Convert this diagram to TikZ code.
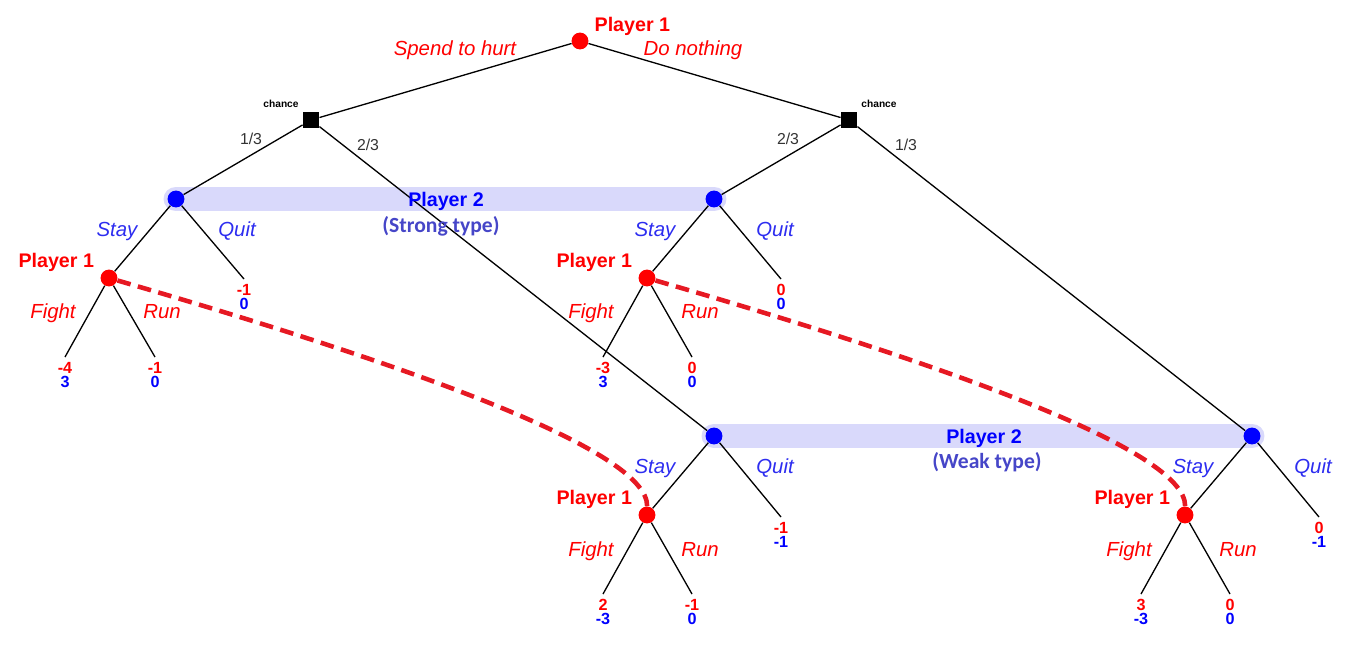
\documentclass[tikz,border=0pt]{standalone}
\usepackage{fontspec}
\setmainfont{Liberation Sans}
\newfontfamily\typefont{Carlito}
\usetikzlibrary{positioning,backgrounds}
\definecolor{pred}{RGB}{255,0,0}
\definecolor{pblue}{RGB}{0,0,255}
\definecolor{actblue}{RGB}{45,45,240}
\definecolor{typeblue}{RGB}{70,70,200}
\definecolor{dashred}{RGB}{230,25,35}
\definecolor{bandcol}{RGB}{217,217,251}
\definecolor{probgray}{RGB}{51,51,51}
\tikzset{
    p1node/.style={circle, fill=pred, inner sep=0pt, minimum size=9.6pt},
    p2node/.style={circle, fill=pblue, inner sep=0pt, minimum size=9.6pt},
    chancebox/.style={rectangle, fill=black, inner sep=0pt, minimum size=9.2pt},
    plabel/.style={inner sep=0pt, font=\fontsize{11.2}{13}\selectfont\bfseries},
    act1/.style={inner sep=0pt, anchor=base, text=pred, font=\fontsize{11.6}{13}\selectfont\itshape},
    act2/.style={inner sep=0pt, anchor=base, text=actblue, font=\fontsize{11.6}{13}\selectfont\itshape},
    prob/.style={inner sep=0pt, anchor=base, text=probgray, font=\fontsize{9}{10}\selectfont},
    chancetxt/.style={inner sep=0pt, anchor=base, font=\fontsize{5.8}{7}\selectfont\bfseries},
    pay/.style={inner sep=0pt, align=center, font=\fontsize{9.2}{8}\selectfont\bfseries},
    infoset/.style={draw=dashred, line width=2.6pt, dash pattern=on 7.8pt off 4.3pt},
    band/.style={draw=bandcol, line width=14.2pt, line cap=round},
}

\begin{document}
\begin{tikzpicture}[x=0.02cm, y=-0.02cm,
                    every edge/.style={draw=black, line width=0.75pt}]
  \useasboundingbox (0,0) rectangle (1355,647);

  % decision and chance nodes
  \node[p1node]    (r)  at (580,41)   {};
  \node[chancebox] (c1) at (311,120)  {};
  \node[chancebox] (c2) at (849,120)  {};
  \node[p2node]    (s1) at (176,199)  {};
  \node[p2node]    (s2) at (714,199)  {};
  \node[p2node]    (w1) at (714,436)  {};
  \node[p2node]    (w2) at (1252,436) {};
  \node[p1node]    (a1) at (109,278)  {};
  \node[p1node]    (a2) at (647,278)  {};
  \node[p1node]    (a3) at (647,515)  {};
  \node[p1node]    (a4) at (1185,515) {};

  % leaf ends
  \coordinate (f1) at (65,357);   \coordinate (u1) at (155,357);  \coordinate (q1) at (244,279);
  \coordinate (f2) at (603,357);  \coordinate (u2) at (692,357);  \coordinate (q2) at (781,279);
  \coordinate (f3) at (603,594);  \coordinate (u3) at (692,594);  \coordinate (q3) at (781,517);
  \coordinate (f4) at (1141,594); \coordinate (u4) at (1230,594); \coordinate (q4) at (1319,517);

  % information sets of player 2
  \begin{pgfonlayer}{background}
    \draw[band] (s1.center) -- (s2.center);
    \draw[band] (w1.center) -- (w2.center);
  \end{pgfonlayer}

  \path (r)  edge (c1) edge (c2)
        (c1) edge (s1) edge (w1)
        (c2) edge (s2) edge (w2)
        (s1) edge (a1) edge (q1)
        (s2) edge (a2) edge (q2)
        (w1) edge (a3) edge (q3)
        (w2) edge (a4) edge (q4)
        (a1) edge (f1) edge (u1)
        (a2) edge (f2) edge (u2)
        (a3) edge (f3) edge (u3)
        (a4) edge (f4) edge (u4);

  % information sets of player 1
  \draw[infoset] (a1) .. controls (409,365) and (648,450) .. (a3);
  \draw[infoset] (a2) .. controls (947,365) and (1186,450) .. (a4);

  % player labels
  \node[plabel, text=pred, above right=-0.5pt and 4.6pt of r] {Player 1};
  \node[plabel, text=pred, above left=0pt and 4.8pt of a1] {Player 1};
  \node[plabel, text=pred, above left=0pt and 4.8pt of a2] {Player 1};
  \node[plabel, text=pred, above left=0pt and 4.8pt of a3] {Player 1};
  \node[plabel, text=pred, above left=0pt and 4.8pt of a4] {Player 1};
  \node[plabel, anchor=base, text=pblue] (p2s) at (446,206.5) {Player 2};
  \node[inner sep=0pt, anchor=base, text=typeblue, font=\typefont\fontsize{12.3}{14}\selectfont\bfseries] at (441,232) {(Strong type)};
  \node[plabel, anchor=base, text=pblue] (p2w) at (984,443.5) {Player 2};
  \node[inner sep=0pt, anchor=base, text=typeblue, font=\typefont\fontsize{12.3}{14}\selectfont\bfseries] at (987,468) {(Weak type)};
  \node[chancetxt] at (281,107) {chance};
  \node[chancetxt] at (879,107) {chance};

  % actions
  \node[act1] at (455,55) {Spend to hurt};
  \node[act1] at (693,55) {Do nothing};
  \node[prob] at (251,144) {1/3};
  \node[prob] at (368,150) {2/3};
  \node[prob] at (788,144) {2/3};
  \node[prob] at (906,150) {1/3};
  \node[act2] at (117,236)  {Stay}; \node[act2] at (237,236)  {Quit};
  \node[act2] at (655,236)  {Stay}; \node[act2] at (775,236)  {Quit};
  \node[act2] at (655,473)  {Stay}; \node[act2] at (775,473)  {Quit};
  \node[act2] at (1193,473) {Stay}; \node[act2] at (1313,473) {Quit};
  \node[act1] at (53,318)   {Fight}; \node[act1] at (162,318)  {Run};
  \node[act1] at (591,318)  {Fight}; \node[act1] at (700,318)  {Run};
  \node[act1] at (591,556)  {Fight}; \node[act1] at (700,556)  {Run};
  \node[act1] at (1129,556) {Fight}; \node[act1] at (1238,556) {Run};

  % payoffs
  \node[pay, below=2.8pt of f1] {\textcolor{pred}{-4}\\\textcolor{pblue}{3}};
  \node[pay, below=2.8pt of u1] {\textcolor{pred}{-1}\\\textcolor{pblue}{0}};
  \node[pay, below=2.8pt of q1] {\textcolor{pred}{-1}\\\textcolor{pblue}{0}};
  \node[pay, below=2.8pt of f2] {\textcolor{pred}{-3}\\\textcolor{pblue}{3}};
  \node[pay, below=2.8pt of u2] {\textcolor{pred}{0}\\\textcolor{pblue}{0}};
  \node[pay, below=2.8pt of q2] {\textcolor{pred}{0}\\\textcolor{pblue}{0}};
  \node[pay, below=2.8pt of q3] {\textcolor{pred}{-1}\\\textcolor{pblue}{-1}};
  \node[pay, below=2.8pt of f3] {\textcolor{pred}{2}\\\textcolor{pblue}{-3}};
  \node[pay, below=2.8pt of u3] {\textcolor{pred}{-1}\\\textcolor{pblue}{0}};
  \node[pay, below=2.8pt of q4] {\textcolor{pred}{0}\\\textcolor{pblue}{-1}};
  \node[pay, below=2.8pt of f4] {\textcolor{pred}{3}\\\textcolor{pblue}{-3}};
  \node[pay, below=2.8pt of u4] {\textcolor{pred}{0}\\\textcolor{pblue}{0}};
\end{tikzpicture}
\end{document}
